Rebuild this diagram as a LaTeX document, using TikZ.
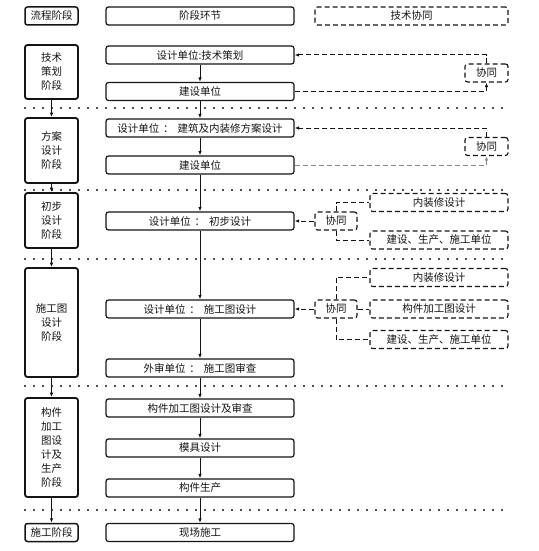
\documentclass[tikz,border=0pt]{standalone}
\usepackage{fontspec}
\setmainfont{Noto Sans CJK SC}
\usetikzlibrary{arrows.meta}
\definecolor{cLine}{HTML}{141414}
\definecolor{cSoft}{HTML}{8A8A8A}
\tikzset{
    box/.style={draw=cLine, rounded corners=2.5pt, align=center, inner sep=1pt,
                minimum height=18pt, text=cLine, font=\fontsize{10.5}{14}\selectfont},
    stage/.style={box, line width=1.8pt, minimum width=53pt},
    link/.style={box, line width=1.2pt, minimum width=188pt},
    coop/.style={box, line width=1.1pt, dash pattern=on 5pt off 3pt},
    side/.style={coop, minimum width=138pt},
    flow/.style={-{Latex[length=4.5pt, width=3.5pt]}, line width=1pt, cLine},
    cflow/.style={-{Latex[length=4.5pt, width=3.5pt]}, line width=1pt, cLine,
                  dash pattern=on 5pt off 3pt},
    cline/.style={line width=1pt, cLine, dash pattern=on 5pt off 3pt},
    sepline/.style={line width=2.2pt, cLine, line cap=round, dash pattern=on 0pt off 9pt},
}

\begin{document}
\begin{tikzpicture}[x=1pt, y=-1pt]
\useasboundingbox (0,0) rectangle (538,551);

% header row
\node[stage, line width=1.5pt]                 (hdA) at (51.5,16)  {流程阶段};
\node[link]                                    (hdB) at (200,16)   {阶段环节};
\node[coop, minimum width=193pt]               (hdC) at (411.5,16) {技术协同};

% stages
\node[stage, minimum height=54pt]  (s1) at (51.5,72)    {技术\\策划\\阶段};
\node[stage, minimum height=65pt]  (s2) at (51.5,150.5) {方案\\设计\\阶段};
\node[stage, minimum height=55pt]  (s3) at (51.5,220.5) {初步\\设计\\阶段};
\node[stage, minimum height=109pt] (s4) at (51.5,322.5) {施工图\\设计\\阶段};
\node[stage, minimum height=99pt]  (s5) at (51.5,447.5) {构件\\加工\\图设\\计及\\生产\\阶段};
\node[stage, line width=1.5pt]     (s6) at (51.5,532.5) {施工阶段};

% steps
\node[link] (a1) at (200,55)    {设计单位:技术策划};
\node[link] (b1) at (200,91.5)  {建设单位};
\node[link] (a2) at (200,128)   {设计单位\hspace{4pt}：\hspace{4pt}建筑及内装修方案设计};
\node[link] (b2) at (200,165)   {建设单位};
\node[link] (a3) at (200,221)   {设计单位\hspace{4pt}：\hspace{4pt}初步设计};
\node[link] (a4) at (200,309)   {设计单位\hspace{4pt}：\hspace{4pt}施工图设计};
\node[link] (b4) at (200,368)   {外审单位\hspace{4pt}：\hspace{4pt}施工图审查};
\node[link] (a5) at (200,408)   {构件加工图设计及审查};
\node[link] (b5) at (200,448)   {模具设计};
\node[link] (e5) at (200,488)   {构件生产};
\node[link] (a6) at (200,532.5) {现场施工};

% coordination
\node[coop, minimum width=43pt] (c1) at (486.5,73)    {协同};
\node[coop, minimum width=43pt] (c2) at (486.5,146.5) {协同};
\node[coop, minimum width=42pt] (c3) at (336,221)     {协同};
\node[coop, minimum width=42pt] (c4) at (336,309)     {协同};

\node[side] (r3a) at (439,202.5) {内装修设计};
\node[side] (r3b) at (439,240)   {建设、生产、施工单位};
\node[side] (r4a) at (439,277.5) {内装修设计};
\node[side] (r4b) at (439,309)   {构件加工图设计};
\node[side] (r4c) at (439,339.5) {建设、生产、施工单位};

% separators
\foreach \yy in {108,190,259,386,510}
    \draw[sepline] (25,\yy) -- (508,\yy);

% main flow
\foreach \p/\q in {s1/s2, s2/s3, s3/s4, s4/s5, s5/s6,
                   a1/b1, b1/a2, a2/b2, b2/a3, a3/a4, a4/b4, b4/a5, a5/b5, b5/e5, e5/a6}
    \draw[flow] (\p) -- (\q);

% coordination links
\draw[cflow] (b1.east) -| (c1.south);
\draw[cflow] (c1.north) |- (a1.east);
\draw[cflow, cSoft] (b2.east) -| (c2.south);
\draw[cflow] (c2.north) |- (a2.east);

\draw[cflow] (c3.west) -- (a3.east);
\draw[cline] (c3.north) |- (r3a.west);
\draw[cline] (c3.south) |- (r3b.west);

\draw[cflow] (c4.west) -- (a4.east);
\draw[cline] (c4.north) |- (r4a.west);
\draw[cline] (c4.east) -- (r4b.west);
\draw[cline] (c4.south) |- (r4c.west);

\end{tikzpicture}
\end{document}
